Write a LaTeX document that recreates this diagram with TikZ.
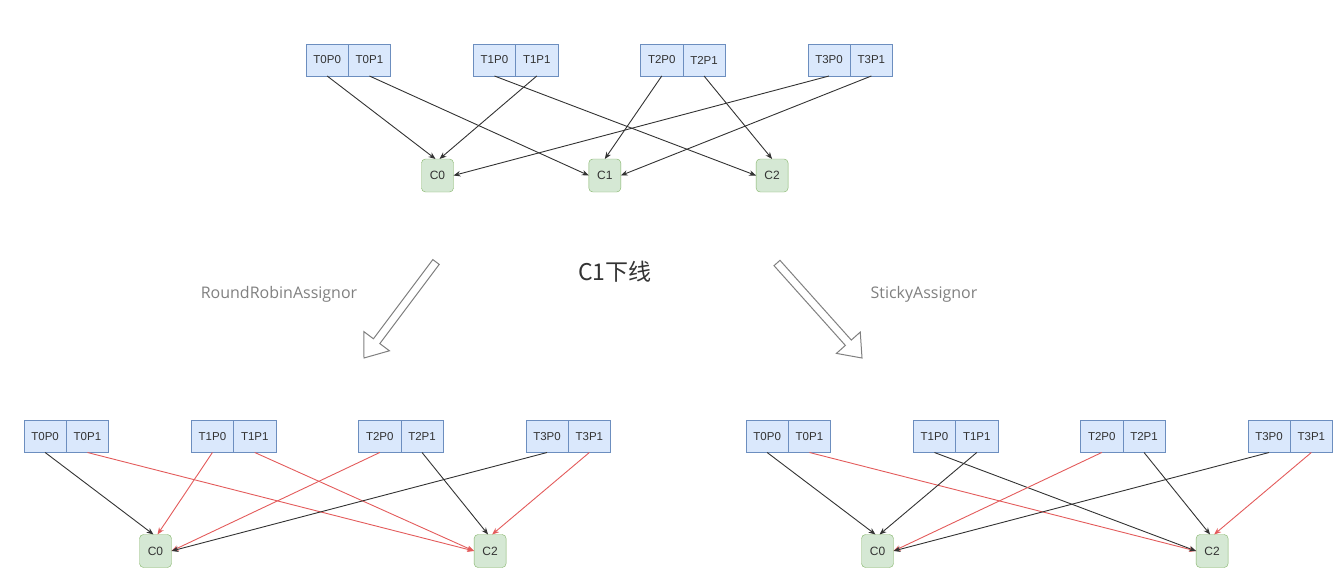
\documentclass[tikz,border=0pt]{standalone}
\usepackage{fontspec}
\setmainfont{Liberation Sans}
\newfontfamily\cjkfont{Noto Sans CJK SC}
\newfontfamily\hintfont{Open Sans}
\usetikzlibrary{positioning,arrows.meta}

\definecolor{partfill}{HTML}{DAE8FC}
\definecolor{partline}{HTML}{6C8EBF}
\definecolor{consfill}{HTML}{D5E8D4}
\definecolor{consline}{HTML}{82B366}
\definecolor{kept}{HTML}{333333}
\definecolor{moved}{HTML}{E35B5B}
\definecolor{hintgray}{HTML}{808080}

\begin{document}
\begin{tikzpicture}[x=1pt, y=-1pt,
  part/.style={draw=partline, fill=partfill, minimum width=42.3pt, minimum height=32pt,
    inner sep=0pt, outer sep=0pt, text=kept, font=\fontsize{11.5}{13}\selectfont},
  cons/.style={draw=consline, fill=consfill, rounded corners=4pt, minimum width=32pt,
    minimum height=33pt, inner sep=0pt, outer sep=0pt, text=kept, font=\fontsize{12}{13}\selectfont},
  link/.style={kept, line width=0.9pt, -{Stealth[length=7pt,width=5.5pt]}},
  moved link/.style={link, moved},
  hint/.style={text=hintgray, font=\hintfont\fontsize{16}{18}\selectfont},
  fat arrow/.style={draw=black!50, fill=white, line width=1pt, line join=miter}]

\useasboundingbox (0,0) rectangle (1342,578);

% Avant : trois consommateurs
\foreach \t in {0,...,3} {
  \node[part] (aT\t P0) at (327.15+167.3*\t, 60) {T\t P0};
  \node[part, right=0pt of aT\t P0] (aT\t P1) {T\t P1};
}
\node[cons] (aC0) at (437.5,175.5) {C0};
\node[cons, right=135.3pt of aC0] (aC1) {C1};
\node[cons, right=135.3pt of aC1] (aC2) {C2};

\draw[link] (aT0P0.south) -- ([xshift=-2pt]aC0.north);
\draw[link] (aT0P1.south) -- (aC1.west);
\draw[link] (aT1P0.south) -- (aC2.west);
\draw[link] (aT1P1.south) -- ([xshift=2pt]aC0.north);
\draw[link] (aT2P0.south) -- (aC1.north);
\draw[link] (aT2P1.south) -- (aC2.north);
\draw[link] (aT3P0.south) -- (aC0.east);
\draw[link] (aT3P1.south) -- (aC1.east);

% C1 hors ligne
\node[text=kept] (title) at (615,272) {\cjkfont\fontsize{23}{26}\selectfont C1下线};
\node[hint] (rrLabel) at (279,294) {RoundRobinAssignor};
\node[hint] (stLabel) at (924,294) {StickyAssignor};

\begin{scope}[shift={(436,262)}, rotate=-126.87]
  \draw[fat arrow] (0,-4) -- (99,-4) -- (99,-16) -- (120,0) -- (99,16) -- (99,4) -- (0,4) -- cycle;
\end{scope}
\begin{scope}[shift={(777,263)}, rotate=-48.18]
  \draw[fat arrow] (0,-4) -- (107,-4) -- (107,-16) -- (127.5,0) -- (107,16) -- (107,4) -- (0,4) -- cycle;
\end{scope}

% RoundRobinAssignor
\foreach \t in {0,...,3} {
  \node[part] (bT\t P0) at (45.15+167.3*\t, 436.5) {T\t P0};
  \node[part, right=0pt of bT\t P0] (bT\t P1) {T\t P1};
}
\node[cons] (bC0) at (155.5,551) {C0};
\node[cons, right=302.6pt of bC0] (bC2) {C2};

\draw[link] (bT0P0.south) -- ([xshift=-2pt]bC0.north);
\draw[moved link] (bT0P1.south) -- (bC2.west);
\draw[moved link] (bT1P0.south) -- ([xshift=2pt]bC0.north);
\draw[moved link] (bT1P1.south) -- (bC2.west);
\draw[moved link] (bT2P0.south) -- (bC0.east);
\draw[link] (bT2P1.south) -- ([xshift=-2pt]bC2.north);
\draw[link] (bT3P0.south) -- (bC0.east);
\draw[moved link] (bT3P1.south) -- ([xshift=2pt]bC2.north);

% StickyAssignor
\foreach \t in {0,...,3} {
  \node[part] (cT\t P0) at (767.15+167.3*\t, 436.5) {T\t P0};
  \node[part, right=0pt of cT\t P0] (cT\t P1) {T\t P1};
}
\node[cons] (cC0) at (877.5,551) {C0};
\node[cons, right=302.6pt of cC0] (cC2) {C2};

\draw[link] (cT0P0.south) -- ([xshift=-2pt]cC0.north);
\draw[moved link] (cT0P1.south) -- (cC2.west);
\draw[link] (cT1P0.south) -- (cC2.west);
\draw[link] (cT1P1.south) -- ([xshift=2pt]cC0.north);
\draw[moved link] (cT2P0.south) -- (cC0.east);
\draw[link] (cT2P1.south) -- ([xshift=-2pt]cC2.north);
\draw[link] (cT3P0.south) -- (cC0.east);
\draw[moved link] (cT3P1.south) -- ([xshift=2pt]cC2.north);

\end{tikzpicture}
\end{document}
